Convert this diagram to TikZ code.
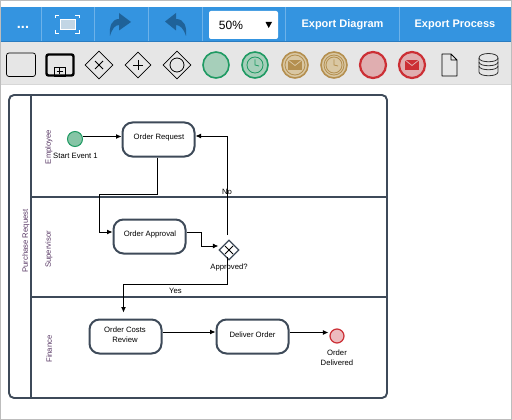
\documentclass[tikz,border=0pt]{standalone}
\usepackage{fontspec}
\setmainfont{Liberation Sans}
\usetikzlibrary{shapes.geometric,arrows.meta,calc}
\definecolor{barblue}{HTML}{3494E0}
\definecolor{barline}{HTML}{6DB2E9}
\definecolor{bardark}{HTML}{2A7CC0}
\definecolor{arrowblue}{HTML}{1F6299}
\definecolor{panel}{HTML}{E6E6E6}
\definecolor{frame}{HTML}{BDBDBD}
\definecolor{lane}{HTML}{3E4A59}
\definecolor{lanetext}{HTML}{5A3A66}
\definecolor{gr}{HTML}{1F9A63}
\definecolor{grfill}{HTML}{A6CFBA}
\definecolor{grstart}{HTML}{86C5A6}
\definecolor{tan}{HTML}{B48F4F}
\definecolor{tanfill}{HTML}{D9C7A3}
\definecolor{rd}{HTML}{CC2F35}
\definecolor{rdfill}{HTML}{E0AEB0}
\definecolor{rdend}{HTML}{EDBBBE}
\tikzset{
  x=1pt,y=-1pt,
  task/.style={draw=lane,line width=2pt,rounded corners=10pt,fill=white,minimum width=72pt,minimum height=34pt,inner sep=0pt,font=\fontsize{7.7}{10}\selectfont,align=center},
  lbl/.style={inner sep=0pt,font=\fontsize{7.7}{10}\selectfont,align=center},
  lanelbl/.style={inner sep=0pt,font=\fontsize{7.7}{10}\selectfont,text=lanetext,rotate=90},
  flow/.style={draw=black,line width=.9pt,-{Latex[length=5.5pt,width=5pt]}},
  gate/.style={diamond,draw=lane,line width=1.3pt,fill=white,minimum width=20pt,minimum height=20pt,inner sep=0pt},
  pdiam/.style={diamond,draw=black,line width=.8pt,inner sep=0pt},
  pcirc/.style={circle,inner sep=0pt,minimum size=26pt,line width=1.6pt},
  sep/.style={draw=barline,line width=1pt},
  btn/.style={inner sep=0pt,text=white,font=\bfseries\fontsize{11}{12}\selectfont},
  lanerule/.style={draw=lane,line width=1.9pt}
}
\newcommand{\envelope}[4]{% cx cy fill line
  \fill[#3] (#1-7,#2-5) rectangle (#1+7,#2+5);
  \draw[#4,line width=.8pt] (#1-7,#2-5) -- (#1,#2+.5) -- (#1+7,#2-5);
}
\newcommand{\clockface}[3]{% cx cy col
  \draw[#3,line width=.8pt] (#1,#2) circle (8);
  \draw[#3,line width=.8pt] (#1,#2-5.5) -- (#1,#2) -- (#1+4,#2+1);
}
\begin{document}
\begin{tikzpicture}
\useasboundingbox (0,0) rectangle (512,420);
\fill[white] (0,0) rectangle (512,420);
% window frame
\fill[panel] (1,42) rectangle (511,84);
\fill[frame!60] (1,84) rectangle (511,85);
% toolbar
\fill[barblue] (1,7) rectangle (511,41.5);
\draw[bardark,line width=.8pt] (1,41.5) -- (511,41.5);
\draw[frame,line width=1pt] (0.5,419.5) rectangle (511.5,0.5);
\foreach \s in {41.5,94.5,148.5,202,285,399} \draw[sep] (\s,7) -- (\s,41);
\node[btn,font=\bfseries\fontsize{14.5}{15}\selectfont,anchor=base] (more) at (23,29) {...};
% fit icon
\fill[panel!80!barblue,draw=white,line width=.8pt] (60,19) rectangle (75,29);
\draw[white,line width=.7pt] (55,18) -- (55,15) -- (59,15) (75,15) -- (79,15) -- (79,18) (55,30) -- (55,33) -- (59,33) (75,33) -- (79,33) -- (79,30);
% redo
\fill[arrowblue] (110,36) .. controls (109,26) and (112,19) .. (119,19) -- (119,13) -- (131,22) -- (119,30.5) -- (119,25) .. controls (115,25) and (112,29) .. (110,36) -- cycle;
% undo
\fill[arrowblue] (186,36) .. controls (187,26) and (184,19) .. (176,19) -- (176,13) -- (165,21.5) -- (176,30.5) -- (176,25) .. controls (180,25) and (184,29) .. (186,36) -- cycle;
% zoom combo
\fill[white,rounded corners=2pt] (209,11) rectangle (278,39);
\node[inner sep=0pt,font=\fontsize{12}{14}\selectfont] (zoomval) at (231,25) {50\%};
\fill[black] (265.5,22) -- (272,22) -- (268.7,28) -- cycle;
\node[btn] (expd) at (342.5,25) {Export Diagram};
\node[btn] (expp) at (455,25) {Export Process};
% palette
\draw[black,line width=.7pt,rounded corners=2.5pt,fill=panel] (6.5,53) rectangle (35.5,76.5);
\draw[black,line width=2.4pt,rounded corners=2pt] (46.5,54.5) rectangle (73.5,75.5);
\draw[black,line width=.8pt] (54,67) rectangle (65,76);
\draw[black,line width=.8pt] (59.5,68.5) -- (59.5,74.5) (56.5,71.5) -- (62.5,71.5);
\node[pdiam,minimum width=28pt,minimum height=28pt] (pd1) at (99,65) {};
\draw[black,line width=.8pt] (95,61) -- (103,69) (103,61) -- (95,69);
\node[pdiam,minimum width=26pt,minimum height=26pt] (pd2) at (138,65) {};
\draw[black,line width=.8pt] (138,60) -- (138,70) (133,65) -- (143,65);
\node[pdiam,minimum width=28pt,minimum height=28pt] (pd3) at (177,65) {};
\draw[black,line width=.8pt] (177,65) circle (7);
\node[pcirc,draw=gr,fill=grfill] (pc1) at (216,65) {};
\node[pcirc,draw=gr,fill=grfill] (pc2) at (255,65) {};
\clockface{255}{65}{gr}
\node[pcirc,draw=tan,fill=tanfill] (pc3) at (295,65) {};
\draw[tan,line width=.8pt] (295,65) circle (10);
\envelope{295}{65}{tan}{tanfill}
\node[pcirc,draw=tan,fill=tanfill] (pc4) at (334,65) {};
\draw[tan,line width=.8pt] (334,65) circle (10);
\clockface{334}{65}{tan}
\node[pcirc,draw=rd,fill=rdfill,line width=2.2pt] (pc5) at (373,65) {};
\node[pcirc,draw=rd,fill=rdfill,line width=2.2pt] (pc6) at (412,65) {};
\envelope{412}{65}{rd}{rdfill}
\draw[black,line width=.8pt,line join=round] (442,54) -- (451,54) -- (457,60) -- (457,76) -- (442,76) -- cycle (451,54) -- (451,60) -- (457,60);
\draw[black!80,line width=.8pt,fill=panel] (479,58) .. controls (479,52) and (498,52) .. (498,58) -- (498,72) .. controls (498,77) and (479,77) .. (479,72) -- cycle;
\draw[black!80,line width=.8pt] (479,58) .. controls (479,63) and (498,63) .. (498,58) (479,62) .. controls (479,67) and (498,67) .. (498,62) (479,66) .. controls (479,71) and (498,71) .. (498,66);
% pool
\draw[lanerule,rounded corners=5pt] (9,95) rectangle (387,398);
\draw[lanerule] (31,95) -- (31,398) (31,197) -- (387,197) (31,297) -- (387,297);
\node[lanelbl] (pool) at (26,241) {Purchase Request};
\node[lanelbl] (l1) at (49,147) {Employee};
\node[lanelbl] (l2) at (49,249.5) {Supervisor};
\node[lanelbl] (l3) at (49,349) {Finance};
% flow nodes
\node[circle,draw=gr,line width=1pt,fill=grstart,minimum size=15pt,inner sep=0pt] (start) at (75,139) {};
\node[task] (orq) at (158.5,139.5) {};
\node[task] (oap) at (149.5,236.5) {};
\node[task] (ocr) at (125.5,336.5) {};
\node[task] (del) at (252.5,336.5) {};
\node[gate] (gw) at (229,250) {};
\draw[black,line width=1pt] (225,246) -- (233,254) (233,246) -- (225,254);
\node[circle,draw=rd,line width=1.2pt,fill=rdend,minimum size=14pt,inner sep=0pt] (end) at (337,336) {};
% connectors
\coordinate (gwt) at (227.5,235);
\coordinate (gwb) at (227.5,257);
\coordinate (b1) at (99.5,194);
\coordinate (b2) at (123.5,284);
\draw[flow] ([yshift=2.5pt]start.east) -- ([yshift=3pt]orq.west);
\draw[flow] ([xshift=-1pt]orq.south) |- (b1) |- ([yshift=4.5pt]oap.west);
\draw[flow] ([yshift=4.5pt]oap.east) -| (201,246) -- ([yshift=4pt]gw.west);
\draw[flow] (gwt) |- ([yshift=3.5pt]orq.east);
\draw[flow] (gwb) |- (b2) -- ([xshift=-2pt,yshift=6pt]ocr.north);
\draw[flow] ([yshift=4.5pt]ocr.east) -- ([yshift=4.5pt]del.west);
\draw[flow] ([yshift=4pt]del.east) -- ([xshift=-1pt,yshift=3.5pt]end.west);
% labels
\node[lbl] (tstart) at (75.5,156) {Start Event 1};
\node[lbl] (torq) at (159,138) {Order Request};
\node[lbl] (toap) at (150,235) {Order Approval};
\node[lbl] (tocr) at (125,335) {Order Costs\\Review};
\node[lbl] (tdel) at (252.5,335) {Deliver Order};
\node[lbl] (tgw) at (229,268) {Approved?};
\node[lbl] (tend) at (337,358) {Order\\Delivered};
\node[lbl] (tno) at (227,191.5) {No};
\node[lbl] (tyes) at (175.5,291) {Yes};
\end{tikzpicture}
\end{document}
